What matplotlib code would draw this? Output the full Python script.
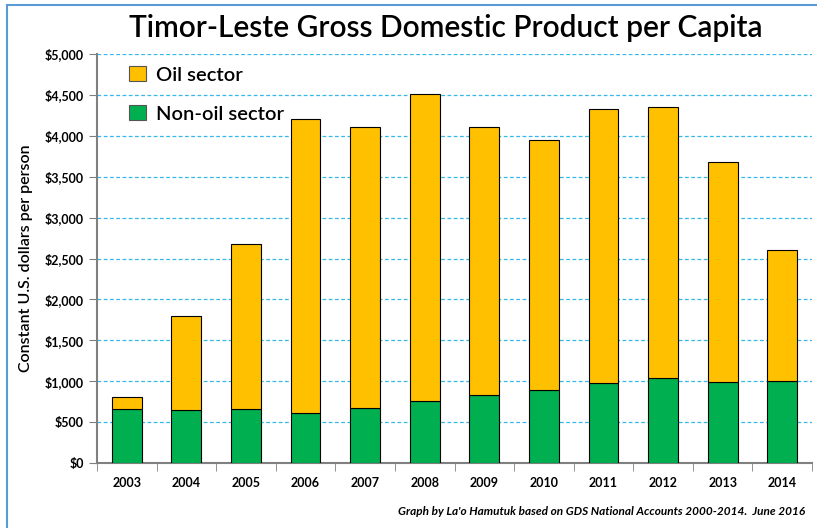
import matplotlib.pyplot as plt
import matplotlib.patches as patches
from matplotlib.ticker import FuncFormatter, MultipleLocator, FixedLocator
import numpy as np

years = ["2003", "2004", "2005", "2006", "2007", "2008",
         "2009", "2010", "2011", "2012", "2013", "2014"]
non_oil = [660, 645, 660, 610, 675, 755, 835, 895, 980, 1040, 990, 1005]
oil = [145, 1155, 2020, 3600, 3435, 3755, 3275, 3055, 3350, 3310, 2690, 1595]

OIL_COLOR = "#FFC000"
NONOIL_COLOR = "#00B050"
GRID_COLOR = "#33B8E8"

plt.rcParams["font.family"] = ["Lato", "DejaVu Sans"]

fig = plt.figure(figsize=(8.17, 5.28), dpi=100)
ax = fig.add_axes([97 / 817, 1 - 463 / 528, (812 - 97) / 817, (463 - 54) / 528])

x = np.arange(len(years))
ax.bar(x, non_oil, width=0.5, color=NONOIL_COLOR, edgecolor="black", linewidth=0.8,
       label="Non-oil sector", zorder=3)
ax.bar(x, oil, width=0.5, bottom=non_oil, color=OIL_COLOR, edgecolor="black",
       linewidth=0.8, label="Oil sector", zorder=3)

ax.set_ylim(0, 5000)
ax.set_xlim(-0.5, len(years) - 0.5)
ax.yaxis.set_major_locator(MultipleLocator(500))
ax.yaxis.set_major_formatter(FuncFormatter(lambda v, p: "${:,.0f}".format(v)))
ax.grid(axis="y", color=GRID_COLOR, linestyle=(0, (3, 2)), linewidth=0.9, zorder=0)
ax.set_axisbelow(True)

ax.set_xticks(x)
ax.set_xticklabels(years, fontsize=9, fontweight="bold")
ax.tick_params(axis="x", length=0, pad=10)
ax.xaxis.set_minor_locator(FixedLocator(np.arange(-0.5, len(years), 1)))
ax.tick_params(axis="x", which="minor", length=6, color="#808080", direction="out")
ax.tick_params(axis="y", length=6, color="#808080", labelsize=9, direction="out")
for lab in ax.get_yticklabels():
    lab.set_fontweight("bold")

for side in ["top", "right"]:
    ax.spines[side].set_visible(False)
for side in ["left", "bottom"]:
    ax.spines[side].set_color("#808080")
    ax.spines[side].set_linewidth(1.5)

ax.set_ylabel("Constant U.S. dollars per person", fontsize=11.5, labelpad=8,
              fontweight="semibold")

handles, labels = ax.get_legend_handles_labels()
leg = ax.legend(handles[::-1], labels[::-1], loc="upper left", bbox_to_anchor=(0.02, 1.015),
                frameon=False, handlelength=0.8, handleheight=0.8,
                labelspacing=1.05, handletextpad=0.5,
                prop={"size": 14.5, "weight": "semibold"})
for h in leg.legend_handles:
    h.set_edgecolor("#555555")

fig.text(0.546, 0.947, "Timor-Leste Gross Domestic Product per Capita",
         ha="center", va="center", fontsize=21.5, fontweight="semibold")
fig.text(0.985, 0.032,
         "Graph by La'o Hamutuk based on GDS National Accounts 2000-2014.  June 2016",
         ha="right", va="center", fontsize=8.5, fontstyle="italic", fontweight="bold")

# light blue frame around the picture
fig.patches.append(patches.Rectangle((7 / 817, -0.01), 1.0, 1 - 5 / 528 + 0.01,
                                     transform=fig.transFigure, fill=False,
                                     edgecolor="#5B9BD5", linewidth=1.5))

fig.savefig("out.png", dpi=100)
